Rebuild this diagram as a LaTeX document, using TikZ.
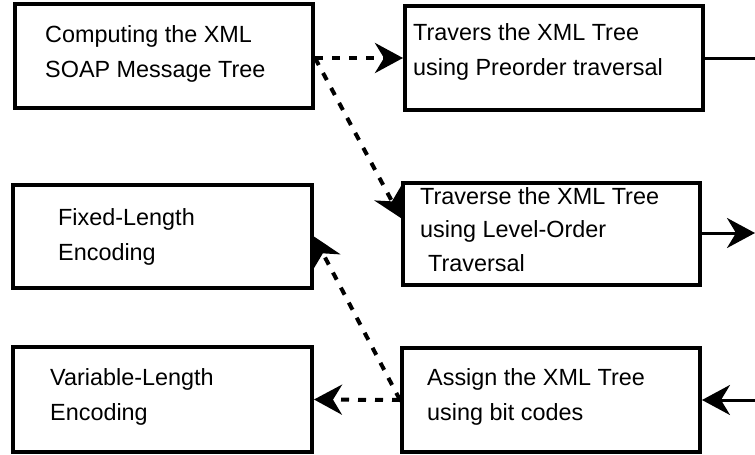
\documentclass[tikz,border=0pt]{standalone}
\usepackage{fontspec}
\setmainfont{Liberation Sans}
\usetikzlibrary{arrows.meta, calc}

\begin{document}
\begin{tikzpicture}[x=1pt, y=-1pt, line cap=butt, line join=miter,
    box/.style={rectangle, draw, line width=4pt, inner sep=0pt},
    txt/.style={anchor=base west, align=left, inner sep=0pt, font=\fontsize{23.4}{35}\selectfont},
    head/.style={-{Stealth[length=28pt, width=30pt, inset=9pt]}},
    dashlink/.style={head, line width=4pt, dash pattern=on 8pt off 9pt}]
    \useasboundingbox (0,0) rectangle (755,455);

    % Boxes
    \draw (164,56) node[box, minimum width=298pt, minimum height=104pt] (comp) {};
    \draw (162.5,236.5) node[box, minimum width=299pt, minimum height=103pt] (fixed) {};
    \draw (162.5,399.5) node[box, minimum width=299pt, minimum height=105pt] (var) {};
    \draw (554,58) node[box, minimum width=298pt, minimum height=104pt] (pre) {};
    \draw (551.5,234) node[box, minimum width=297pt, minimum height=102pt] (level) {};
    \draw (551,400) node[box, minimum width=298pt, minimum height=104pt] (assign) {};

    % Texts (base = last line)
    \node[txt] (compT) at (45,77) {Computing the XML\\SOAP Message Tree};
    \node[txt] (fixedT) at (58,260) {Fixed-Length\\Encoding};
    \node[txt] (varT) at (50,420) {Variable-Length\\Encoding};
    \node[txt] (preT) at (413,75) {Travers the XML Tree\\using Preorder traversal};
    \node[txt, font=\fontsize{23.4}{33.5}\selectfont] (levelT) at (420,271) {Traverse the XML Tree\\using Level-Order\\\hspace*{8pt}Traversal};
    \node[txt] (assignT) at (427,420) {Assign the XML Tree\\using bit codes};

    % Free ends
    \coordinate (outPre) at (755,58);
    \coordinate (outLevel) at (755,233);
    \coordinate (inAssign) at (755,400);
    \coordinate (fromComp) at (315,58);
    \coordinate (toLevel) at ($(level.north west)!0.35!(level.south west)$);

    % Edges
    \foreach \source/\target in {fromComp/pre.west, fromComp/toLevel, assign.west/fixed.east, assign.west/var.east} {
            \draw[dashlink] (\source) -- (\target);
        }
    \draw[line width=3pt] (pre.east |- outPre) -- (outPre);
    \draw[head, line width=3pt] (level.east |- outLevel) -- (outLevel);
    \draw[head, line width=3pt] (inAssign) -- (assign.east);
\end{tikzpicture}
\end{document}
